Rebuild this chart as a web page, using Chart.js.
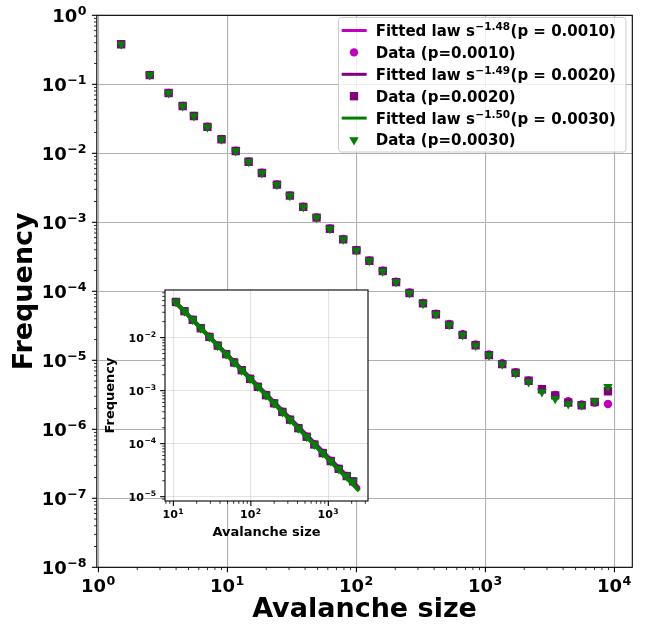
<!DOCTYPE html>
<html>
<head>
<meta charset="utf-8">
<title>Avalanche size distribution</title>
<script src="https://cdn.jsdelivr.net/npm/chart.js@4.4.1/dist/chart.umd.min.js"></script>
<style>
  html, body { margin: 0; padding: 0; background: #fff; }
  #wrap { position: relative; width: 649px; height: 625px; overflow: hidden; }
  canvas { position: absolute; }
  #main { left: 0; top: 0; }
  #inset { left: 95px; top: 280px; }
</style>
</head>
<body>
<div id="wrap">
  <canvas id="main" width="649" height="625"></canvas>
  <canvas id="inset" width="290" height="265"></canvas>
</div>
<script>
const FONT = '"DejaVu Sans", sans-serif';
Chart.defaults.font.family = FONT;

// probabilities and fitted exponents a of s^-a
const probs = ['0.0010', '0.0020', '0.0030'];
const exponents = [1.48, 1.49, 1.50];

// histogram bin centres (avalanche size s)
const sizes = [1.5, 2.5, 3.5, 4.5, 5.5, 7, 9, 11.6, 14.6, 18.5, 24.2, 30.5, 38.7, 49.1,
  62.3, 79, 100, 126, 160, 203, 258, 328, 413, 524, 666, 839, 1064, 1350, 1714, 2162,
  2742, 3475, 4385, 5570, 7030, 8910];

const freqP1 = [0.382, 0.137, 0.0750, 0.0487, 0.0349, 0.0242, 0.0161, 0.0109, 0.00760,
  0.00522, 0.00354, 0.00246, 0.00169, 0.00118, 8.15e-4, 5.72e-4, 3.97e-4, 2.80e-4,
  1.99e-4, 1.38e-4, 9.6e-5, 6.8e-5, 4.75e-5, 3.36e-5, 2.38e-5, 1.70e-5, 1.22e-5,
  9.1e-6, 6.7e-6, 5.1e-6, 3.85e-6, 3.15e-6, 2.55e-6, 2.3e-6, 2.45e-6, 2.33e-6];
const freqP2 = [0.380, 0.136, 0.0748, 0.0485, 0.0347, 0.0241, 0.0160, 0.0108, 0.00755,
  0.00518, 0.00351, 0.00243, 0.00167, 0.00117, 8.07e-4, 5.67e-4, 3.93e-4, 2.77e-4,
  1.97e-4, 1.36e-4, 9.45e-5, 6.70e-5, 4.65e-5, 3.28e-5, 2.33e-5, 1.65e-5, 1.19e-5,
  8.8e-6, 6.6e-6, 5.06e-6, 3.80e-6, 3.11e-6, 2.43e-6, 2.23e-6, 2.49e-6, 3.56e-6];
const freqP3 = [0.379, 0.136, 0.0747, 0.0485, 0.0346, 0.0240, 0.0160, 0.0108, 0.00754,
  0.00517, 0.00350, 0.00243, 0.00167, 0.00117, 8.05e-4, 5.66e-4, 3.92e-4, 2.77e-4,
  1.96e-4, 1.36e-4, 9.42e-5, 6.68e-5, 4.63e-5, 3.27e-5, 2.32e-5, 1.64e-5, 1.18e-5,
  8.75e-6, 6.48e-6, 4.85e-6, 3.47e-6, 2.78e-6, 2.33e-6, 2.23e-6, 2.55e-6, 4.14e-6];

// inset: tail s >= 10, renormalised
const insetSizes = [10.8, 13.9, 17.8, 22.6, 29.2, 37.4, 47.9, 60.7, 76.3, 97.7, 123, 157,
  199, 255, 320, 410, 526, 659, 847, 1074, 1361, 1726, 2085];
const insetP1 = [0.0472, 0.0316, 0.0217, 0.0151, 0.0104, 0.00708, 0.00490, 0.00342,
  0.00244, 0.00168, 0.00119, 8.25e-4, 5.80e-4, 3.99e-4, 2.85e-4, 1.97e-4, 1.36e-4,
  9.7e-5, 6.7e-5, 4.75e-5, 3.38e-5, 2.47e-5, 1.96e-5];
const insetP2 = [0.0470, 0.0315, 0.0216, 0.0150, 0.0103, 0.00705, 0.00488, 0.00340,
  0.00243, 0.00167, 0.00118, 8.20e-4, 5.77e-4, 3.97e-4, 2.83e-4, 1.96e-4, 1.35e-4,
  9.65e-5, 6.65e-5, 4.70e-5, 3.35e-5, 2.45e-5, 1.95e-5];
const insetP3 = [0.0470, 0.0315, 0.0216, 0.0150, 0.0103, 0.00705, 0.00488, 0.00340,
  0.00243, 0.00167, 0.00118, 8.20e-4, 5.77e-4, 3.97e-4, 2.83e-4, 1.96e-4, 1.35e-4,
  9.65e-5, 6.65e-5, 4.70e-5, 3.35e-5, 2.45e-5, 1.95e-5];

// fitted law C * s^-a over the fit window
const fitRange = [10, 2500];
const fitAmp = [1.540, 1.576, 1.613];

const colors = ['#bf00bf', '#800080', '#008000'];
const markers = [
  { style: 'circle', radius: 4.2, rotation: 0 },
  { style: 'rect', radius: 5.9, rotation: 0 },
  { style: 'triangle', radius: 5.5, rotation: 180 }
];

function decadeValues(min, max) {
  const out = [];
  for (let d = Math.ceil(Math.log10(min) - 1e-9); d <= Math.floor(Math.log10(max) + 1e-9); d++) {
    out.push(Math.pow(10, d));
  }
  return out;
}

// text runs, superscript runs are smaller and raised
function drawRich(ctx, runs, x, y, size, align) {
  const supSize = size * 0.7;
  let total = 0;
  runs.forEach(r => {
    ctx.font = 'bold ' + (r[1] ? supSize : size) + 'px ' + FONT;
    r.w = ctx.measureText(r[0]).width;
    total += r.w + (r[1] ? 1 : 0);
  });
  let cx = align === 'right' ? x - total : align === 'center' ? x - total / 2 : x;
  ctx.textAlign = 'left';
  ctx.textBaseline = 'alphabetic';
  runs.forEach(r => {
    ctx.font = 'bold ' + (r[1] ? supSize : size) + 'px ' + FONT;
    if (r[1]) cx += 0.5;
    ctx.fillText(r[0], cx, r[1] ? y - size * 0.4 : y);
    cx += r.w + (r[1] ? 0.5 : 0);
  });
}

function powLabel(v) {
  const e = Math.round(Math.log10(v));
  return [['10', 0], [String(e).replace('-', '\u2212'), 1]];
}

function drawMarker(ctx, i, x, y) {
  const m = markers[i];
  ctx.fillStyle = colors[i];
  ctx.beginPath();
  if (m.style === 'circle') {
    ctx.arc(x, y, m.radius, 0, Math.PI * 2);
  } else if (m.style === 'rect') {
    const h = Math.SQRT1_2 * m.radius;
    ctx.rect(x - h, y - h, 2 * h, 2 * h);
  } else {
    const r = m.radius;
    ctx.moveTo(x, y + r);
    ctx.lineTo(x - r * Math.sqrt(3) / 2, y - r / 2);
    ctx.lineTo(x + r * Math.sqrt(3) / 2, y - r / 2);
    ctx.closePath();
  }
  ctx.fill();
}

function drawLegend(ctx) {
  const L = 338.5, T = 17.5, R = 626, B = 152, rad = 3;
  const fs = 15;
  ctx.save();
  ctx.beginPath();
  ctx.moveTo(L + rad, T);
  ctx.arcTo(R, T, R, B, rad);
  ctx.arcTo(R, B, L, B, rad);
  ctx.arcTo(L, B, L, T, rad);
  ctx.arcTo(L, T, R, T, rad);
  ctx.closePath();
  ctx.fillStyle = 'rgba(255,255,255,0.8)';
  ctx.fill();
  ctx.strokeStyle = '#cccccc';
  ctx.lineWidth = 1;
  ctx.stroke();
  for (let i = 0; i < probs.length; i++) {
    let ym = 30.5 + 2 * i * 21.9;
    ctx.strokeStyle = colors[i];
    ctx.lineWidth = 3;
    ctx.beginPath();
    ctx.moveTo(341.7, ym);
    ctx.lineTo(366.7, ym);
    ctx.stroke();
    ctx.fillStyle = '#000';
    drawRich(ctx, [['Fitted law s', 0], ['\u2212' + exponents[i].toFixed(2), 1],
      ['(p = ' + probs[i] + ')', 0]], 375.7, ym + 0.364 * fs, fs, 'left');
    ym += 21.9;
    drawMarker(ctx, i, 354, ym);
    ctx.fillStyle = '#000';
    drawRich(ctx, [['Data (p=' + probs[i] + ')', 0]], 375.7, ym + 0.364 * fs, fs, 'left');
  }
  ctx.restore();
}

// white axes patch, tick marks, frame, mathtext-like tick labels and axis titles
const axesDecor = {
  id: 'axesDecor',
  beforeDraw(chart, args, o) {
    const { ctx, chartArea: a } = chart;
    ctx.save();
    ctx.fillStyle = '#ffffff';
    if (o.fillCanvas) ctx.fillRect(0, 0, chart.width, chart.height);
    else ctx.fillRect(a.left, a.top, a.right - a.left, a.bottom - a.top);
    ctx.restore();
  },
  afterDraw(chart, args, o) {
    const { ctx, chartArea: a, scales } = chart;
    const sx = scales.x, sy = scales.y;
    ctx.save();
    ctx.strokeStyle = '#000';
    const marks = (scale, fn) => {
      const lo = Math.floor(Math.log10(scale.min)), hi = Math.ceil(Math.log10(scale.max));
      for (let d = lo; d <= hi; d++) {
        for (let k = 1; k < 10; k++) {
          const v = k * Math.pow(10, d);
          if (v < scale.min * 0.9999 || v > scale.max * 1.0001) continue;
          fn(scale.getPixelForValue(v), k === 1);
        }
      }
    };
    marks(sx, (px, major) => {
      ctx.lineWidth = major ? 1.1 : 0.8;
      ctx.beginPath();
      ctx.moveTo(px, a.bottom);
      ctx.lineTo(px, a.bottom + (major ? 4.9 : 2.8));
      ctx.stroke();
    });
    marks(sy, (py, major) => {
      ctx.lineWidth = major ? 1.1 : 0.8;
      ctx.beginPath();
      ctx.moveTo(a.left, py);
      ctx.lineTo(a.left - (major ? 4.9 : 2.8), py);
      ctx.stroke();
    });
    ctx.lineWidth = 1.1;
    ctx.strokeRect(a.left, a.top, a.right - a.left, a.bottom - a.top);

    ctx.fillStyle = '#000';
    decadeValues(sx.min, sx.max).forEach(v => {
      drawRich(ctx, powLabel(v), sx.getPixelForValue(v), o.xLabelY, o.tick, 'center');
    });
    decadeValues(sy.min, sy.max).forEach(v => {
      drawRich(ctx, powLabel(v), a.left - o.yLabelGap, sy.getPixelForValue(v) + 0.364 * o.tick, o.tick, 'right');
    });

    ctx.font = 'bold ' + o.title + 'px ' + FONT;
    ctx.textAlign = 'center';
    ctx.textBaseline = 'alphabetic';
    ctx.fillText(o.xTitle, (a.left + a.right) / 2, o.xTitleY);
    ctx.translate(o.yTitleX, (a.top + a.bottom) / 2);
    ctx.rotate(-Math.PI / 2);
    ctx.fillText(o.yTitle, 0, 0);
    ctx.restore();
    if (o.legend) drawLegend(ctx);
  }
};

function logAxis(min, max, gridColor) {
  return {
    type: 'logarithmic',
    min: min,
    max: max,
    ticks: { display: false },
    border: { display: false },
    grid: { color: gridColor, lineWidth: 1.1, drawTicks: false },
    afterBuildTicks: (scale) => {
      scale.ticks = decadeValues(scale.min, scale.max).map(v => ({ value: v }));
    }
  };
}

function scatterSet(xs, ys, i) {
  return {
    label: 'Data (p=' + probs[i] + ')',
    data: xs.map((s, k) => ({ x: s, y: ys[k] })),
    showLine: false,
    pointStyle: markers[i].style,
    pointRadius: markers[i].radius,
    pointRotation: markers[i].rotation,
    pointBackgroundColor: colors[i],
    pointBorderWidth: 0
  };
}

const mainSeries = [freqP1, freqP2, freqP3];
const mainSets = mainSeries.map((ys, i) => Object.assign(scatterSet(sizes, ys, i), { order: 3 - i }));

new Chart(document.getElementById('main'), {
  type: 'scatter',
  data: { datasets: mainSets },
  options: {
    responsive: false,
    animation: false,
    layout: { padding: { left: 96.8, top: 15.3, right: 16.7, bottom: 57.7 } },
    plugins: {
      legend: { display: false },
      tooltip: { enabled: false },
      axesDecor: {
        fillCanvas: true, tick: 18, title: 27,
        xTitle: 'Avalanche size', yTitle: 'Frequency',
        xLabelY: 592, yLabelGap: 9.7, xTitleY: 617, yTitleX: 32, legend: true
      }
    },
    scales: {
      x: logAxis(0.9714, 13757, '#b0b0b0'),
      y: logAxis(1e-8, 1, '#b0b0b0')
    }
  },
  plugins: [axesDecor]
});

const insetSeries = [insetP1, insetP2, insetP3];
const insetSets = [];
insetSeries.forEach((ys, i) => {
  insetSets.push({
    label: 'Fitted law (p=' + probs[i] + ')',
    data: fitRange.map(s => ({ x: s, y: fitAmp[i] * Math.pow(s, -exponents[i]) })),
    showLine: true,
    borderColor: colors[i],
    borderWidth: 4,
    pointRadius: 0
  });
  insetSets.push(scatterSet(insetSizes, ys, i));
});
insetSets.forEach((d, k) => { d.order = insetSets.length - k; });

new Chart(document.getElementById('inset'), {
  type: 'scatter',
  data: { datasets: insetSets },
  options: {
    responsive: false,
    animation: false,
    layout: { padding: { left: 70, top: 10, right: 17, bottom: 44 } },
    plugins: {
      legend: { display: false },
      tooltip: { enabled: false },
      axesDecor: {
        fillCanvas: false, tick: 11, title: 13,
        xTitle: 'Avalanche size', yTitle: 'Frequency',
        xLabelY: 238, yLabelGap: 8.3, xTitleY: 256, yTitleX: 19, legend: false
      }
    },
    scales: {
      x: logAxis(7.8, 3250, 'rgba(176,176,176,0.35)'),
      y: logAxis(8.3e-6, 0.079, 'rgba(176,176,176,0.35)')
    }
  },
  plugins: [axesDecor]
});
</script>
</body>
</html>
